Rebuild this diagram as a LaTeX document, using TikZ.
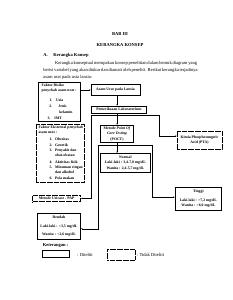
\documentclass[tikz,border=0pt]{standalone}
\usepackage{fontspec}
\setmainfont{Liberation Serif}
\usetikzlibrary{arrows.meta}
\newcommand\mkbox[7]{\node[#1, minimum width={(#4-#2)*2.638pt}, minimum height={(#5-#3)*2.638pt}] (#6) at ({(#2+#4)/2},{(#3+#5)/2}) {#7};}
\begin{document}
\begin{tikzpicture}[x=2.638pt,y=-2.638pt,
  sbox/.style={draw, line width=1.3pt, inner sep=0pt, align=center, font=\fontsize{10}{12}\selectfont\bfseries},
  dbox/.style={draw, line width=1.1pt, dotted, inner sep=0pt, align=center, font=\fontsize{10}{12}\selectfont\bfseries},
  txt/.style={inner sep=0pt, anchor=base west, font=\fontsize{10}{12}\selectfont\bfseries},
  body/.style={inner sep=0pt, anchor=base west, font=\fontsize{12}{14}\selectfont},
  conn/.style={line width=0.6pt},
  arr/.style={conn, -{Latex[length=3.5pt,width=3pt]}}]
\path[use as bounding box] (0,0) rectangle (232,300);
% header
\node[body, anchor=base, font=\fontsize{12}{14}\selectfont\bfseries] (bab) at (120,36) {BAB III};
\node[body, anchor=base, font=\fontsize{12}{14}\selectfont\bfseries] (judul) at (120,46.4) {KERANGKA KONSEP};
\node[body, font=\fontsize{12}{14}\selectfont\bfseries] (sub) at (43.3,56.4) {\makebox[26.4pt][l]{A.}Kerangka Konsep};
\node[body] (p1) at (43.3,64.6) {\makebox[405.5pt][s]{\hspace*{30.9pt}Kerangka konseptual merupakan konsep penelitian dalam bentuk diagram yang}};
\node[body] (p2) at (43.3,71.3) {\makebox[405.5pt][s]{berisi variabel yang akan diukur dan diamati oleh peneliti. Berikut kerangka terjadinya}};
\node[body] (p3) at (43.3,78) {asam urat pada usia lansia:};
% boxes
\mkbox{sbox}{38.3}{82.3}{80.7}{121.7}{risk}{}
\mkbox{sbox}{91}{84.3}{140}{95.5}{asam}{Asam Urat pada Lansia}
\mkbox{sbox}{91}{106}{146.7}{113.3}{lab}{Pemeriksaan Laboratorium}
\mkbox{dbox}{36}{124}{84}{182.3}{ext}{}
\mkbox{sbox, font=\fontsize{10}{14}\selectfont\bfseries}{100.7}{125}{133.3}{142.7}{poct}{Metode \textit{Point Of}\\\textit{Care Testing}\\(POCT)}
\mkbox{sbox, font=\fontsize{10}{15.3}\selectfont\bfseries}{100.7}{153.3}{150}{172.7}{normal}{Normal\\Laki-laki : 3,4-7,0 mg/dL\\Wanita : 2,4-5,7 mg/dL}
\mkbox{dbox, font=\fontsize{10}{14}\selectfont\bfseries}{177}{131}{222}{149.5}{kimia}{Kimia Phosphotungstic\\Acid (PTA)}
\mkbox{dbox}{32.7}{195}{80.7}{201.7}{uric}{Metode Uricase - PAP}
\mkbox{sbox, font=\fontsize{10}{15}\selectfont\bfseries}{175}{187.3}{221.7}{210}{tinggi}{Tinggi\\[9pt]Laki-laki : >7,2 mg/dL\\Wanita : >6,0 mg/dL}
\mkbox{sbox, font=\fontsize{10}{22.4}\selectfont\bfseries}{37.3}{213.3}{80.7}{239.3}{rendah}{Rendah\\Laki-laki : <3,5 mg/dL\\Wanita : <2,6 mg/dL}
% risk box text
\node[txt] (r1) at (41.5,86.4) {Faktor Risiko};
\node[txt] (r2) at (41.5,91.4) {penyebab asam urat :};
\node[txt] (r3n) at (49.3,101.1) {1.};
\node[txt] (r3) at (56,101.1) {Usia};
\node[txt] (r4n) at (49.3,107.8) {2.};
\node[txt] (r4) at (58.3,107.8) {Jenis};
\node[txt] (r5) at (59.3,113.4) {kelamin};
\node[txt] (r6n) at (47.5,119.4) {3.};
\node[txt] (r6) at (54.3,119.4) {IMT};
% external box text
\node[txt] (e1) at (38.5,128.4) {Faktor Eksternal penyebab};
\node[txt] (e2) at (38.5,133.4) {asam urat :};
\node[txt] (e3n) at (49.5,140.1) {1.};
\node[txt] (e3) at (55,140.1) {Obesitas};
\node[txt] (e4n) at (49.5,146.1) {2.};
\node[txt] (e4) at (55,146.1) {Genetik};
\node[txt] (e5n) at (49.5,151.4) {3.};
\node[txt] (e5) at (55,151.4) {Penyakit dan};
\node[txt] (e6) at (55,156.4) {obat-obatan};
\node[txt] (e7n) at (49.5,163.1) {4.};
\node[txt] (e7) at (55,163.1) {Aktivitas fisik};
\node[txt] (e8n) at (49.5,168.1) {5.};
\node[txt] (e8) at (55,168.1) {Minuman ringan};
\node[txt] (e9) at (55,173.4) {dan alkohol};
\node[txt] (e10n) at (49.5,179.4) {6.};
\node[txt] (e10) at (55,179.4) {Pola makan};
% connectors
\coordinate (labL) at (91,115);
\coordinate (labR) at (159.3,115);
\coordinate (kj) at (0,136);
\coordinate (pL) at (98,145);
\coordinate (pR) at (152.3,145);
\coordinate (tj) at (0,197);
\coordinate (rj) at (0,228.7);
\draw[arr] (risk.east |- asam.west) -- (asam.west);
\draw[arr] (asam.south -| poct.north) -- (lab.north -| poct.north);
\draw[arr] (lab.south -| poct.north) -- (poct.north);
\draw[conn] (labL) -- (labR);
\draw[arr] (labL) |- (uric.east);
\draw[arr] (labR) |- (kimia.west |- kj);
\draw[arr] (poct.south) -- (poct.south |- normal.north);
\draw[conn] (pL) -- (pR);
\draw[arr] (pL) |- (rendah.east |- rj);
\draw[arr] (pR) |- (tinggi.west |- tj);
% legend
\node[body, font=\fontsize{12}{14}\selectfont\bfseries] (ket) at (42.7,246.4) {Keterangan :};
\mkbox{sbox}{42.7}{250}{69.3}{257.3}{legS}{}
\mkbox{dbox}{107.3}{249.3}{135}{260}{legD}{}
\node[body] (legSt) at (77,256.6) {: Diteliti};
\node[body] (legDt) at (136.7,256.6) {: Tidak Diteliti};
\end{tikzpicture}
\end{document}
